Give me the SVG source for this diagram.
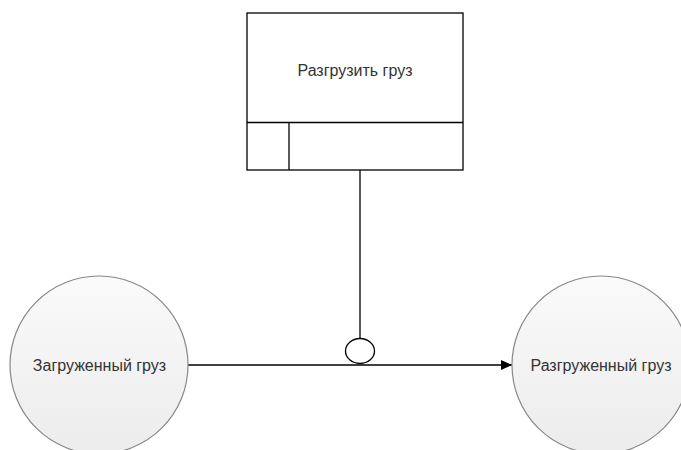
<svg xmlns="http://www.w3.org/2000/svg" width="681" height="450" viewBox="0 0 681 450">
<style>
text{font-family:"Liberation Sans",Arial,sans-serif;font-size:16px;fill:#333;text-anchor:middle;dominant-baseline:central}
.box{fill:#fff;stroke:#000;stroke-width:1.3}
.st{fill:url(#g);stroke:#888;stroke-width:1.2}
.ln{fill:none;stroke:#000;stroke-width:1.3}
</style>
<defs>
<linearGradient id="g" x1="0" y1="0" x2="0" y2="1">
<stop offset="0" stop-color="#fafafa"/><stop offset="1" stop-color="#ececec"/>
</linearGradient>
<marker id="arr" markerWidth="12" markerHeight="10" refX="11" refY="5" orient="auto" markerUnits="userSpaceOnUse">
<path d="M0,0 L11,5 L0,10 Z" fill="#000"/>
</marker>
</defs>
<g id="connectors">
<line class="ln" x1="360" y1="170" x2="360" y2="339"/>
<line class="ln" x1="188" y1="365" x2="512" y2="365" marker-end="url(#arr)"/>
<ellipse class="ln" cx="360" cy="351" rx="14.5" ry="12.5" fill="#fff"/>
</g>
<g id="process">
<rect class="box" x="247" y="13" width="216" height="157"/>
<line class="ln" x1="247" y1="122.5" x2="463" y2="122.5"/>
<line class="ln" x1="289" y1="122.5" x2="289" y2="170"/>
<text x="355" y="70">Разгрузить груз</text>
</g>
<g id="loaded">
<circle class="st" cx="99" cy="365" r="89"/>
<text x="99.5" y="365">Загруженный груз</text>
</g>
<g id="unloaded">
<circle class="st" cx="601" cy="365" r="89"/>
<text x="601" y="365">Разгруженный груз</text>
</g>
</svg>
